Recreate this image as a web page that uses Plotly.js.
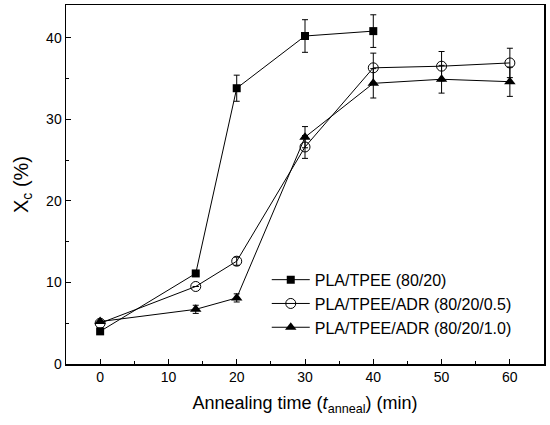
<!DOCTYPE html>
<html>
<head>
<meta charset="utf-8">
<script src="https://cdn.plot.ly/plotly-3.0.1.min.js"></script>
<style>html,body{margin:0;padding:0;background:#fff}#chart{width:550px;height:425px}</style>
</head>
<body>
<div id="chart"></div>
<script>
const timeA = [0, 14, 20, 30, 40];
const xcA = [4.0, 11.1, 33.8, 40.2, 40.8];
const errA = [0, 0.3, 1.6, 2.0, 2.0];

const timeB = [0, 14, 20, 30, 40, 50, 60];
const xcB = [5.0, 9.5, 12.6, 26.6, 36.3, 36.5, 36.9];
const errB = [0, 0, 0.5, 1.4, 1.8, 1.8, 1.8];

const timeC = [0, 14, 20, 30, 40, 50, 60];
const xcC = [5.2, 6.7, 8.1, 27.8, 34.4, 34.9, 34.6];
const errC = [0, 0.5, 0.5, 1.3, 1.8, 1.7, 1.8];

const names = ['PLA/TPEE (80/20)', 'PLA/TPEE/ADR (80/20/0.5)', 'PLA/TPEE/ADR (80/20/1.0)'];

function errbar(arr) {
  return {type: 'data', array: arr, visible: true, color: '#000', thickness: 1, width: 3};
}

const traces = [
  {x: timeA, y: xcA, name: names[0], mode: 'lines+markers', type: 'scatter',
   line: {color: '#000', width: 1},
   marker: {symbol: 'square', size: 8, color: '#000'},
   error_y: errbar(errA)},
  {x: timeB, y: xcB, name: names[1], mode: 'lines+markers', type: 'scatter',
   line: {color: '#000', width: 1},
   marker: {symbol: 'circle-open', size: 10, color: '#000', line: {width: 1, color: '#000'}},
   error_y: errbar(errB)},
  {x: timeC, y: xcC, name: names[2], mode: 'lines+markers', type: 'scatter',
   line: {color: '#000', width: 1},
   marker: {symbol: 'triangle-up', size: 10, color: '#000'},
   error_y: errbar(errC)}
];

const layout = {
  width: 550, height: 425,
  margin: {l: 66, r: 6, t: 5, b: 61},
  paper_bgcolor: '#fff', plot_bgcolor: '#fff',
  font: {family: 'Liberation Sans, Arial, sans-serif', color: '#000', size: 12},
  showlegend: true,
  legend: {x: 0.42, y: 0.282, xanchor: 'left', yanchor: 'top', itemwidth: 38,
           bgcolor: 'rgba(0,0,0,0)', font: {size: 16}, tracegroupgap: 0},
  xaxis: {
    range: [-5, 65], tickvals: [0, 10, 20, 30, 40, 50, 60],
    ticks: 'inside', ticklen: 5, tickwidth: 1, tickcolor: '#000',
    minor: {ticks: 'inside', ticklen: 3, dtick: 5, tick0: 0, tickcolor: '#000'},
    showline: true, linecolor: '#000', linewidth: 1.5, mirror: true,
    showgrid: false, zeroline: false,
    tickfont: {size: 14},
    title: {text: 'Annealing time (<i>t</i><sub>anneal</sub>) (min)', font: {size: 18}, standoff: 12}
  },
  yaxis: {
    range: [0, 44], tickvals: [0, 10, 20, 30, 40],
    ticks: 'inside', ticklen: 5, tickwidth: 1, tickcolor: '#000',
    minor: {ticks: 'inside', ticklen: 3, dtick: 5, tick0: 0, tickcolor: '#000'},
    showline: true, linecolor: '#000', linewidth: 1.5, mirror: true,
    showgrid: false, zeroline: false,
    tickfont: {size: 14},
    title: {text: 'X<sub>c</sub> (%)', font: {size: 20}, standoff: 12}
  }
};

Plotly.newPlot('chart', traces, layout, {displayModeBar: false, staticPlot: true});
</script>
</body>
</html>
